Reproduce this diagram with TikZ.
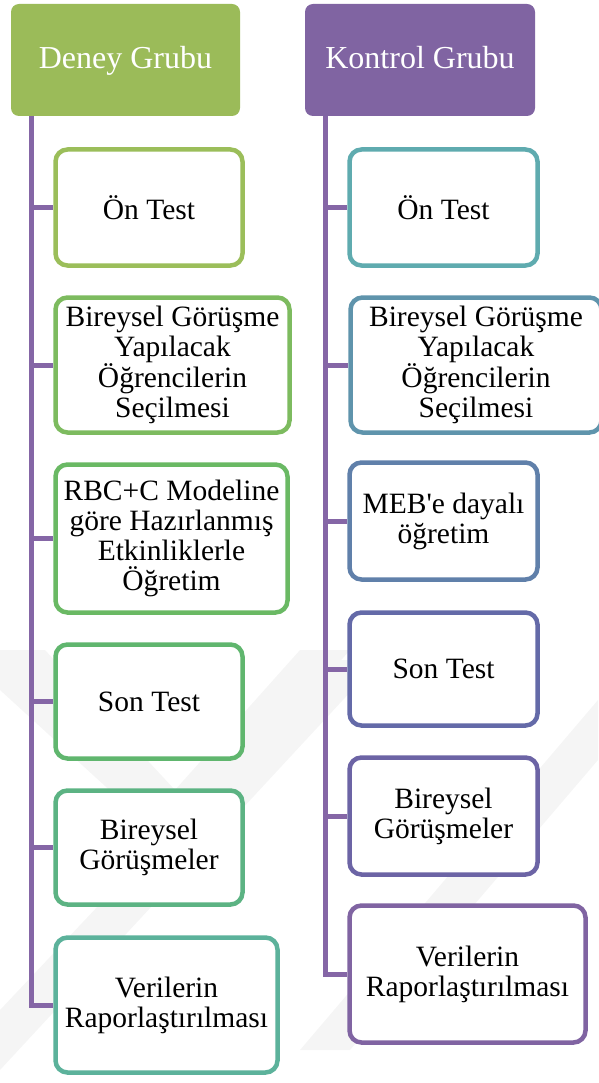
\documentclass[tikz,border=0pt]{standalone}
\usepackage{fontspec}
\setmainfont{Liberation Serif}[Ligatures=TeXOff]
\begin{document}
\begin{tikzpicture}[x=1pt,y=-1pt,
  hdr/.style={rounded corners=8pt, inner sep=0pt, minimum width=229pt, minimum height=112pt, text=white, text height=22pt, text depth=4pt, font=\fontsize{32}{34}\selectfont},
  stepbox/.style={draw=#1, fill=white, line width=4.5pt, rounded corners=12pt, inner sep=0pt, align=center, font=\fontsize{29.5}{30}\selectfont},
  trunk/.style={draw=trunkc, line width=5pt},
  wm/.style={fill=black!4, draw=none}]
\definecolor{hgreen}{HTML}{9BBB59}
\definecolor{hpurple}{HTML}{8064A2}
\definecolor{trunkc}{HTML}{8566A6}
\definecolor{cL1}{HTML}{9BBE5A}
\definecolor{cL2}{HTML}{7DBB5F}
\definecolor{cL3}{HTML}{6AB964}
\definecolor{cL4}{HTML}{60B66E}
\definecolor{cL5}{HTML}{5CB383}
\definecolor{cL6}{HTML}{5CB29B}
\definecolor{cR1}{HTML}{5FABAF}
\definecolor{cR2}{HTML}{5F94AC}
\definecolor{cR3}{HTML}{6080AA}
\definecolor{cR4}{HTML}{646AA8}
\definecolor{cR5}{HTML}{6C64A5}
\definecolor{cR6}{HTML}{8064A2}
\useasboundingbox (0,0) rectangle (598,1083);
% faint watermark
\fill[wm] (0,650) -- (45,650) -- (175,790) -- (300,650) -- (350,650) -- (175,850) -- (0,690) -- cycle;
\fill[wm] (0,1010) -- (330,660) -- (380,660) -- (0,1070) -- cycle;
\fill[wm] (300,1050) -- (598,700) -- (598,760) -- (350,1050) -- cycle;
% headers
\node[hdr, fill=hgreen] (hL) at (125.5,60) {Deney Grubu};
\node[hdr, fill=hpurple, minimum width=230pt] (hR) at (420,60) {Kontrol Grubu};
% left boxes
\node[stepbox=cL1, minimum width=187pt, minimum height=116pt] (L1) at (149,207.5) {Ön Test};
\node[stepbox=cL2, minimum width=234pt, minimum height=135pt] (L2) at (172.5,365) {Bireysel Görüşme\\Yapılacak\\Öğrencilerin\\Seçilmesi};
\node[stepbox=cL3, minimum width=232pt, minimum height=148pt] (L3) at (171.5,538.5) {RBC+C Modeline\\göre Hazırlanmış\\Etkinliklerle\\Öğretim};
\node[stepbox=cL4, minimum width=187pt, minimum height=114pt] (L4) at (149,701.5) {Son Test};
\node[stepbox=cL5, minimum width=187pt, minimum height=114pt] (L5) at (149,847.5) {Bireysel\\Görüşmeler};
\node[stepbox=cL6, minimum width=222pt, minimum height=135pt] (L6) at (166.5,1005) {Verilerin\\Raporlaştırılması};
% right boxes
\node[stepbox=cR1, minimum width=188pt, minimum height=116pt] (R1) at (443.5,207.5) {Ön Test};
\node[stepbox=cR2, minimum width=251pt, minimum height=135pt] (R2) at (476,365) {Bireysel Görüşme\\Yapılacak\\Öğrencilerin\\Seçilmesi};
\node[stepbox=cR3, minimum width=188pt, minimum height=117pt] (R3) at (443.5,521) {MEB'e dayalı\\öğretim};
\node[stepbox=cR4, minimum width=188pt, minimum height=113pt] (R4) at (443.5,669) {Son Test};
\node[stepbox=cR5, minimum width=188pt, minimum height=117pt] (R5) at (443.5,816) {Bireysel\\Görüşmeler};
\node[stepbox=cR6, minimum width=236pt, minimum height=137pt] (R6) at (467.5,974) {Verilerin\\Raporlaştırılması};
% connectors
\coordinate (tL) at (31,116);
\coordinate (tR) at (325,116);
\draw[trunk] (tL) |- (L6.west);
\foreach \n in {L1,L2,L3,L4,L5} \draw[trunk] (tL |- \n.west) -- (\n.west);
\draw[trunk] (tR) |- (R6.west);
\foreach \n in {R1,R2,R3,R4,R5} \draw[trunk] (tR |- \n.west) -- (\n.west);
\end{tikzpicture}
\end{document}
